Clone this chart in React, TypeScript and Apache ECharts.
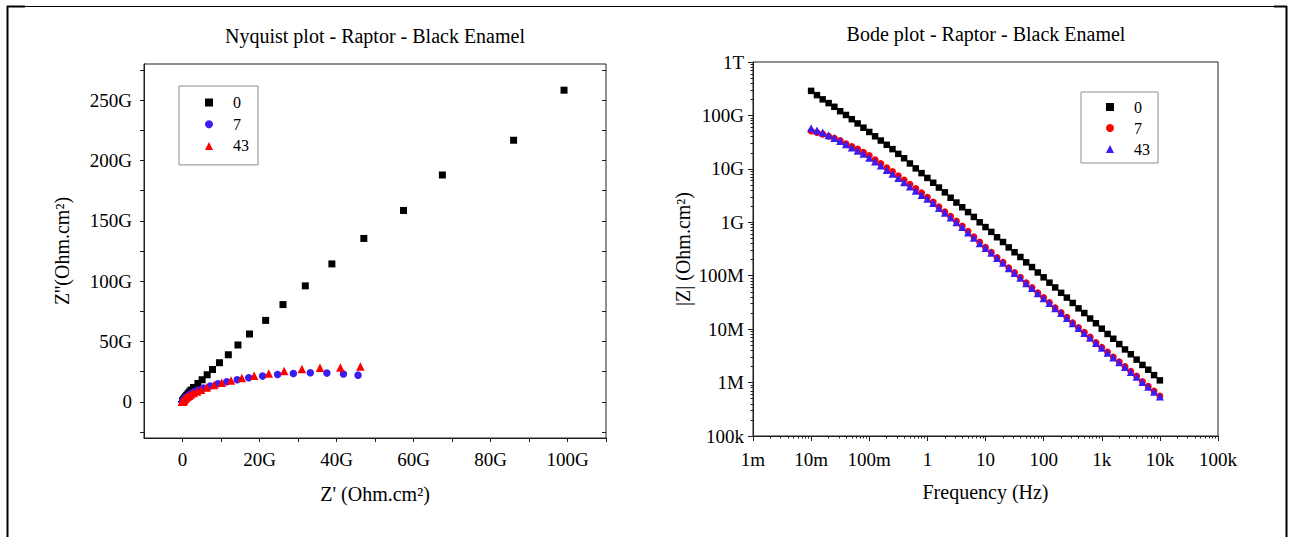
import React, { useEffect, useRef } from "react";
import * as echarts from "echarts";

// ---------- Data ----------
// Frequencies (Hz), 10 points per decade, 10 mHz .. 10 kHz
const freq = [
  0.01, 0.0126, 0.0158, 0.02, 0.0251, 0.0316, 0.0398, 0.0501, 0.0631, 0.0794,
  0.1, 0.126, 0.158, 0.2, 0.251, 0.316, 0.398, 0.501, 0.631, 0.794,
  1, 1.26, 1.58, 2, 2.51, 3.16, 3.98, 5.01, 6.31, 7.94,
  10, 12.6, 15.8, 20, 25.1, 31.6, 39.8, 50.1, 63.1, 79.4,
  100, 126, 158, 200, 251, 316, 398, 501, 631, 794,
  1000, 1260, 1580, 2000, 2510, 3160, 3980, 5010, 6310, 7940, 10000,
];

// |Z| (Ohm.cm2) for Bode plot
const bodeZ0 = [
  2.88e11, 2.4e11, 2.0e11, 1.7e11, 1.45e11, 1.2e11, 1.02e11, 8.51e10, 7.08e10, 5.89e10,
  4.9e10, 4.07e10, 3.39e10, 2.82e10, 2.34e10, 1.91e10, 1.58e10, 1.26e10, 1.02e10, 8.32e9,
  6.76e9, 5.5e9, 4.47e9, 3.63e9, 2.88e9, 2.34e9, 1.91e9, 1.55e9, 1.26e9, 1.0e9,
  8.13e8, 6.61e8, 5.25e8, 4.27e8, 3.39e8, 2.75e8, 2.24e8, 1.78e8, 1.45e8, 1.15e8,
  9.33e7, 7.41e7, 6.03e7, 4.79e7, 3.89e7, 3.09e7, 2.45e7, 2.0e7, 1.58e7, 1.29e7,
  1.02e7, 8.13e6, 6.61e6, 5.25e6, 4.17e6, 3.39e6, 2.69e6, 2.14e6, 1.74e6, 1.38e6, 1.1e6,
];
const bodeZ7 = [
  5.13e10, 4.79e10, 4.47e10, 4.07e10, 3.72e10, 3.39e10, 2.95e10, 2.63e10, 2.34e10, 2.04e10,
  1.78e10, 1.48e10, 1.26e10, 1.05e10, 8.91e9, 7.41e9, 6.17e9, 5.13e9, 4.27e9, 3.55e9,
  2.95e9, 2.4e9, 1.95e9, 1.58e9, 1.29e9, 1.05e9, 8.51e8, 6.76e8, 5.37e8, 4.27e8,
  3.39e8, 2.75e8, 2.19e8, 1.78e8, 1.41e8, 1.15e8, 9.33e7, 7.41e7, 6.03e7, 4.79e7,
  3.89e7, 3.16e7, 2.51e7, 2.04e7, 1.66e7, 1.32e7, 1.07e7, 8.71e6, 7.08e6, 5.62e6,
  4.57e6, 3.72e6, 3.02e6, 2.45e6, 2.0e6, 1.62e6, 1.32e6, 1.05e6, 8.51e5, 6.92e5, 5.62e5,
];
const bodeZ43 = [
  5.75e10, 5.25e10, 4.79e10, 4.27e10, 3.8e10, 3.31e10, 2.88e10, 2.51e10, 2.19e10, 1.91e10,
  1.62e10, 1.38e10, 1.15e10, 9.55e9, 8.13e9, 6.76e9, 5.62e9, 4.68e9, 3.89e9, 3.24e9,
  2.75e9, 2.29e9, 1.86e9, 1.51e9, 1.23e9, 1.0e9, 8.13e8, 6.46e8, 5.13e8, 4.07e8,
  3.31e8, 2.69e8, 2.14e8, 1.74e8, 1.38e8, 1.12e8, 9.12e7, 7.24e7, 5.89e7, 4.68e7,
  3.8e7, 3.09e7, 2.45e7, 2.0e7, 1.62e7, 1.29e7, 1.05e7, 8.51e6, 6.92e6, 5.5e6,
  4.47e6, 3.63e6, 2.95e6, 2.4e6, 1.95e6, 1.58e6, 1.29e6, 1.02e6, 8.32e5, 6.76e5, 5.5e5,
];

// Nyquist: Z' and Z'' in G(Ohm.cm2)
const nyqRe0 = [
  99.1, 86.0, 67.5, 57.4, 47.1, 38.8, 31.9, 26.1, 21.6, 17.4, 14.4, 11.9, 9.6, 7.8, 6.4, 5.1, 4.0, 2.85,
  2.2, 1.75, 1.4, 1.1, 0.86, 0.68, 0.54, 0.43, 0.34, 0.27, 0.22, 0.17, 0.14, 0.11, 0.09, 0.07, 0.06,
  0.05, 0.04, 0.03, 0.025, 0.02, 0.016, 0.013, 0.01, 0.008, 0.006, 0.005, 0.004, 0.003, 0.0025, 0.002,
  0.0016, 0.0013, 0.001, 0.0008, 0.0006, 0.0005, 0.0004, 0.0003, 0.00025, 0.0002, 0.00015,
];
const nyqIm0 = [
  258.3, 216.8, 188.0, 158.6, 135.4, 114.3, 96.1, 80.6, 67.5, 56.2, 47.1, 39.0, 32.4, 26.8, 22.4, 18.3, 15.2, 11.9,
  9.75, 8.1, 6.6, 5.4, 4.39, 3.53, 2.85, 2.3, 1.87, 1.53, 1.24, 0.99, 0.8, 0.65, 0.52, 0.42, 0.33,
  0.27, 0.22, 0.18, 0.14, 0.11, 0.09, 0.073, 0.059, 0.047, 0.038, 0.03, 0.024, 0.019, 0.016, 0.013,
  0.01, 0.008, 0.0065, 0.0052, 0.0041, 0.0033, 0.0026, 0.0021, 0.0017, 0.0014, 0.0011,
];
const nyqRe7 = [
  45.6, 41.8, 37.5, 33.2, 28.8, 24.7, 20.8, 17.2, 14.2, 11.5, 9.2, 7.2, 5.4, 4.0, 3.05, 2.3, 1.8, 1.4,
  1.1, 0.85, 0.66, 0.5, 0.4, 0.32, 0.26, 0.2, 0.16, 0.13, 0.1, 0.08, 0.06,
  0.05, 0.04, 0.03, 0.025, 0.02, 0.016, 0.013, 0.01, 0.008, 0.006, 0.005, 0.004, 0.003, 0.0025, 0.002,
  0.0016, 0.0013, 0.001, 0.0008, 0.0006, 0.0005, 0.0004, 0.0003, 0.00025, 0.0002, 0.00015, 0.00012,
  0.0001, 0.00008, 0.00006,
];
const nyqIm7 = [
  22.1, 23.0, 23.8, 24.1, 23.5, 22.7, 21.3, 19.9, 18.3, 16.6, 15.0, 13.0, 11.4, 9.7, 8.4, 7.0, 5.9, 4.9,
  4.1, 3.4, 2.9, 2.35, 1.9, 1.55, 1.26, 1.03, 0.83, 0.66, 0.53, 0.42, 0.33,
  0.27, 0.21, 0.17, 0.14, 0.11, 0.09, 0.072, 0.059, 0.047, 0.038, 0.031, 0.025, 0.02, 0.016, 0.013,
  0.01, 0.0085, 0.0069, 0.0055, 0.0045, 0.0036, 0.0029, 0.0024, 0.0019, 0.0015, 0.0012, 0.001,
  0.0008, 0.00065, 0.00055,
];
const nyqRe43 = [
  46.2, 41.0, 35.7, 31.0, 26.4, 22.4, 18.6, 15.4, 12.6, 10.2, 8.2, 6.3, 4.8, 3.8, 2.9, 2.2, 1.7, 1.3,
  1.0, 0.78, 0.6, 0.47, 0.37, 0.29, 0.23, 0.18, 0.14, 0.11, 0.09, 0.07, 0.055,
  0.045, 0.035, 0.028, 0.022, 0.018, 0.014, 0.011, 0.009, 0.007, 0.0055, 0.0045, 0.0035, 0.0028, 0.0022,
  0.0018, 0.0014, 0.0011, 0.0009, 0.0007, 0.00055, 0.00045, 0.00035, 0.00028, 0.00022, 0.00018, 0.00014,
  0.00011, 0.00009, 0.00007, 0.000055,
];
const nyqIm43 = [
  29.3, 28.5, 28.2, 27.2, 25.5, 23.5, 21.6, 19.7, 17.7, 15.8, 13.9, 11.9, 10.0, 8.5, 7.2, 6.07, 5.1, 4.28,
  3.58, 2.99, 2.5, 2.05, 1.68, 1.37, 1.12, 0.92, 0.75, 0.6, 0.48, 0.39, 0.31,
  0.25, 0.2, 0.16, 0.13, 0.1, 0.083, 0.066, 0.053, 0.043, 0.034, 0.027, 0.022, 0.018, 0.014,
  0.011, 0.009, 0.0072, 0.0058, 0.0046, 0.0037, 0.003, 0.0024, 0.0019, 0.0015, 0.0012, 0.001,
  0.0008, 0.00064, 0.00051, 0.00041,
];

const seriesNames = ["0", "7", "43"];

// Tick values / labels
const nyqXLabelValues = [0, 20, 40, 60, 80, 100];
const nyqXTickValues = [0, 10, 20, 30, 40, 50, 60, 70, 80, 90, 100, 110];
const nyqYLabelValues = [0, 50, 100, 150, 200, 250];
const nyqYTickValues = [-25, 0, 25, 50, 75, 100, 125, 150, 175, 200, 225, 250, 275];

const freqTickValues = [1e-3, 1e-2, 1e-1, 1, 10, 100, 1e3, 1e4, 1e5];
const freqTickLabels = ["1m", "10m", "100m", "1", "10", "100", "1k", "10k", "100k"];
const zTickValues = [1e5, 1e6, 1e7, 1e8, 1e9, 1e10, 1e11, 1e12];
const zTickLabels = ["100k", "1M", "10M", "100M", "1G", "10G", "100G", "1T"];

const minorOf = (majors: number[]) => {
  const out: number[] = [];
  for (let i = 0; i < majors.length - 1; i++) {
    for (let m = 2; m <= 9; m++) out.push(+(m * majors[i]).toPrecision(6));
  }
  return out;
};

const FONT = "'Liberation Serif', 'Times New Roman', serif";
const BLUE = "#3a1df2";
const RED = "#ff0000";
const BLACK = "#000000";
const AX = "#1e1e1e";

const lookup = (vals: number[], labels: string[]) => (v: number) => {
  const i = vals.findIndex((t) => Math.abs(Math.log10(t) - Math.log10(v)) < 1e-6);
  return i >= 0 ? labels[i] : "";
};

export default function App() {
  const ref = useRef<HTMLDivElement>(null);

  useEffect(() => {
    document.body.style.margin = "0";
    const chart = echarts.init(ref.current!, null, { renderer: "svg" });

    const labelStyle = { fontFamily: FONT, fontSize: 19, color: "#000" };
    const nameStyle = { fontFamily: FONT, fontSize: 20, color: "#000" };

    const nyqSeries = [
      { name: seriesNames[0], re: nyqRe0, im: nyqIm0, symbol: "rect", size: 7, color: BLACK },
      { name: seriesNames[1], re: nyqRe7, im: nyqIm7, symbol: "circle", size: 7.5, color: BLUE },
      { name: seriesNames[2], re: nyqRe43, im: nyqIm43, symbol: "triangle", size: 8.5, color: RED },
    ].map((s) => ({
      type: "scatter",
      name: s.name,
      xAxisIndex: 0,
      yAxisIndex: 0,
      symbol: s.symbol,
      symbolSize: s.size,
      itemStyle: { color: s.color, opacity: 1 },
      data: s.re.map((x, i) => [x, s.im[i]]),
    }));

    const bodeSeries = [
      { name: "B" + seriesNames[0], z: bodeZ0, symbol: "rect", size: 6.5, color: BLACK },
      { name: "B" + seriesNames[1], z: bodeZ7, symbol: "circle", size: 7, color: RED },
      { name: "B" + seriesNames[2], z: bodeZ43, symbol: "triangle", size: 8, color: BLUE },
    ].map((s) => ({
      type: "scatter",
      name: s.name,
      xAxisIndex: 1,
      yAxisIndex: 2,
      symbol: s.symbol,
      symbolSize: s.size,
      itemStyle: { color: s.color, opacity: 1 },
      data: freq.map((f, i) => [f, s.z[i]]),
    }));

    const legendCommon = {
      orient: "vertical",
      itemWidth: 8,
      itemHeight: 8,
      borderColor: "#8c8c8c",
      borderWidth: 1,
      selectedMode: false,
      itemStyle: { opacity: 1 },
      textStyle: { fontFamily: FONT, fontSize: 16, color: "#000", padding: [0, 0, 0, 15] },
    };

    chart.setOption({
      animation: false,
      backgroundColor: "#ffffff",
      title: [
        {
          text: "Nyquist plot - Raptor - Black Enamel",
          left: 375,
          top: 26,
          textAlign: "center",
          padding: 0,
          textStyle: { fontFamily: FONT, fontSize: 20, fontWeight: "normal", color: "#000" },
        },
        {
          text: "Bode plot - Raptor - Black Enamel",
          left: 986,
          top: 24,
          textAlign: "center",
          padding: 0,
          textStyle: { fontFamily: FONT, fontSize: 20, fontWeight: "normal", color: "#000" },
        },
      ],
      legend: [
        {
          ...legendCommon,
          data: seriesNames,
          left: 179,
          top: 86,
          itemGap: 5.7,
          padding: [8.5, 9, 11, 26],
        },
        {
          ...legendCommon,
          data: seriesNames.map((n) => "B" + n),
          formatter: (n: string) => n.slice(1),
          left: 1081,
          top: 92,
          itemGap: 5,
          padding: [7, 8, 6, 25],
        },
      ],
      grid: [
        { left: 144, top: 64, width: 462, height: 374, show: true, borderColor: AX, borderWidth: 1, backgroundColor: "transparent", outerBoundsMode: "none" },
        { left: 753, top: 62, width: 465, height: 374, show: true, borderColor: AX, borderWidth: 1, backgroundColor: "transparent", outerBoundsMode: "none" },
      ],
      xAxis: [
        {
          type: "value",
          gridIndex: 0,
          min: -10,
          max: 110,
          position: "bottom",
          axisLine: { show: true, onZero: false, lineStyle: { color: AX, width: 1 } },
          axisTick: { show: true, inside: false, length: 4, customValues: nyqXTickValues, lineStyle: { color: AX } },
          axisLabel: {
            ...labelStyle,
            margin: 12,
            customValues: nyqXLabelValues,
            formatter: (v: number) => (v === 0 ? "0" : v + "G"),
          },
          splitLine: { show: false },
          name: "Z' (Ohm.cm²)",
          nameLocation: "middle",
          nameGap: 46,
          nameTextStyle: nameStyle,
        },
        {
          type: "log",
          gridIndex: 1,
          logBase: 10,
          min: 1e-3,
          max: 1e5,
          position: "bottom",
          axisLine: { show: true, onZero: false, lineStyle: { color: AX, width: 1 } },
          axisTick: { show: true, inside: false, length: 5, customValues: freqTickValues, lineStyle: { color: AX } },
          axisLabel: {
            ...labelStyle,
            margin: 14,
            customValues: freqTickValues,
            formatter: lookup(freqTickValues, freqTickLabels),
          },
          splitLine: { show: false },
          name: "Frequency (Hz)",
          nameLocation: "middle",
          nameGap: 46,
          nameTextStyle: nameStyle,
        },
        {
          type: "log",
          gridIndex: 1,
          logBase: 10,
          min: 1e-3,
          max: 1e5,
          position: "bottom",
          axisLine: { show: false, onZero: false },
          axisTick: { show: true, inside: false, length: 2.5, customValues: minorOf(freqTickValues), lineStyle: { color: AX } },
          axisLabel: { show: false },
          splitLine: { show: false },
        },
      ],
      yAxis: [
        {
          type: "value",
          gridIndex: 0,
          min: -30,
          max: 280,
          position: "left",
          axisLine: { show: true, onZero: false, lineStyle: { color: AX, width: 1 } },
          axisTick: { show: true, inside: false, length: 4, customValues: nyqYTickValues, lineStyle: { color: AX } },
          axisLabel: {
            ...labelStyle,
            margin: 12,
            customValues: nyqYLabelValues,
            formatter: (v: number) => (v === 0 ? "0" : v + "G"),
          },
          splitLine: { show: false },
          name: "Z''(Ohm.cm²)",
          nameLocation: "middle",
          nameGap: 72,
          nameTextStyle: nameStyle,
        },
        {
          type: "value",
          gridIndex: 0,
          min: -30,
          max: 280,
          position: "right",
          axisLine: { show: false, onZero: false },
          axisTick: { show: true, inside: true, length: 4, customValues: nyqYTickValues, lineStyle: { color: AX } },
          axisLabel: { show: false },
          splitLine: { show: false },
        },
        {
          type: "log",
          gridIndex: 1,
          logBase: 10,
          min: 1e5,
          max: 1e12,
          position: "left",
          axisLine: { show: true, onZero: false, lineStyle: { color: AX, width: 1 } },
          axisTick: { show: true, inside: false, length: 5, customValues: zTickValues, lineStyle: { color: AX } },
          axisLabel: {
            ...labelStyle,
            margin: 9,
            customValues: zTickValues,
            formatter: lookup(zTickValues, zTickLabels),
          },
          splitLine: { show: false },
          name: "|Z| (Ohm.cm²)",
          nameLocation: "middle",
          nameGap: 60,
          nameTextStyle: nameStyle,
        },
        {
          type: "log",
          gridIndex: 1,
          logBase: 10,
          min: 1e5,
          max: 1e12,
          position: "left",
          axisLine: { show: false, onZero: false },
          axisTick: { show: true, inside: false, length: 2.5, customValues: minorOf(zTickValues), lineStyle: { color: AX } },
          axisLabel: { show: false },
          splitLine: { show: false },
        },
      ],
      graphic: [
        { type: "line", silent: true, shape: { x1: 7.5, y1: 6, x2: 7.5, y2: 537 }, style: { stroke: "#000", lineWidth: 2 } },
        { type: "line", silent: true, shape: { x1: 1286.5, y1: 6, x2: 1286.5, y2: 537 }, style: { stroke: "#000", lineWidth: 2 } },
        { type: "line", silent: true, shape: { x1: 7, y1: 6.5, x2: 1287, y2: 6.5 }, style: { stroke: "#000", lineWidth: 1 } },
        { type: "line", silent: true, shape: { x1: 7, y1: 6.5, x2: 25, y2: 6.5 }, style: { stroke: "#000", lineWidth: 2 } },
        { type: "line", silent: true, shape: { x1: 1274, y1: 6.5, x2: 1287, y2: 6.5 }, style: { stroke: "#000", lineWidth: 2 } },
      ],
      series: [...nyqSeries, ...bodeSeries],
    } as any);

    return () => chart.dispose();
  }, []);

  return <div ref={ref} style={{ width: 1292, height: 537 }} />;
}
